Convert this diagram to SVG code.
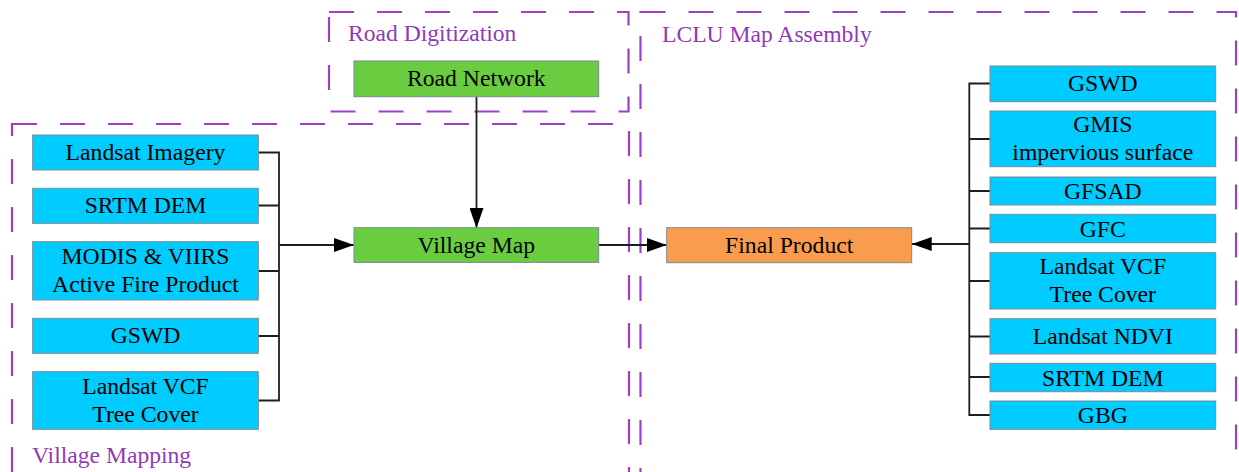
<svg xmlns="http://www.w3.org/2000/svg" width="1239" height="472" viewBox="0 0 1239 472">
<style>
.grp{fill:none;stroke:#9b3fc6;stroke-width:2.2;stroke-dasharray:25 23}
.gl{font-family:'Liberation Serif','Times New Roman','DejaVu Serif',serif;font-size:23.6px;fill:#8e3ab8}
.n{stroke:#7a8a92;stroke-width:1}
.b{fill:#00ccff}
.g{fill:#6acd3f}
.o{fill:#fa9c4e}
.t{font-family:'Liberation Serif','Times New Roman','DejaVu Serif',serif;font-size:23.7px;fill:#000;text-anchor:middle}
.c{fill:none;stroke:#1e1e1e;stroke-width:1.8}
</style>
<defs>
<marker id="ah" markerUnits="userSpaceOnUse" markerWidth="20" markerHeight="14" refX="20" refY="7" orient="auto">
<path d="M0,0 L20,7 L0,14 z" fill="#000"/>
</marker>
</defs>
<g id="group-road-digitization">
<rect class="grp" x="329" y="12" width="299.5" height="99.5"/>
<text class="gl" x="348" y="41">Road Digitization</text>
</g>
<g id="group-village-mapping">
<rect class="grp" x="12" y="124" width="617" height="349"/>
<text class="gl" x="32" y="463">Village Mapping</text>
</g>
<g id="group-lclu">
<rect class="grp" x="640.5" y="12" width="595.5" height="461"/>
<text class="gl" x="662" y="41.5">LCLU Map Assembly</text>
</g>
<g id="connectors">
<path class="c" d="M258.3,152.5 H279 V400.5 H258.3 M258.3,205.5 H279 M258.3,271 H279 M258.3,336 H279"/>
<path class="c" d="M279,245 H354" marker-end="url(#ah)"/>
<path class="c" d="M476.5,96.7 V228" marker-end="url(#ah)"/>
<path class="c" d="M598.7,245 H666.7" marker-end="url(#ah)"/>
<path class="c" d="M990,83.5 H969.3 V415 H990 M990,139 H969.3 M990,191 H969.3 M990,228.5 H969.3 M990,281 H969.3 M990,336.5 H969.3 M990,377 H969.3"/>
<path class="c" d="M969.3,244 H911.7" marker-end="url(#ah)"/>
</g>
<g id="road-network"><rect class="n g" x="354" y="61" width="244.7" height="35.7"/><text class="t" x="476.3" y="86">Road Network</text></g>
<g id="village-map"><rect class="n g" x="354" y="227.7" width="244.7" height="34.7"/><text class="t" x="476.3" y="252.5">Village Map</text></g>
<g id="final-product"><rect class="n o" x="666.7" y="227.7" width="245" height="35"/><text class="t" x="789.2" y="252.5">Final Product</text></g>
<g id="vm-landsat-imagery"><rect class="n b" x="32.7" y="135" width="225.6" height="35"/><text class="t" x="145.5" y="160">Landsat Imagery</text></g>
<g id="vm-srtm-dem"><rect class="n b" x="32.7" y="188.3" width="225.6" height="35"/><text class="t" x="145.5" y="213.3">SRTM DEM</text></g>
<g id="vm-modis-viirs"><rect class="n b" x="32.7" y="241.7" width="225.6" height="58.3"/><text class="t" x="145.5" y="264"><tspan x="145.5">MODIS &amp; VIIRS</tspan><tspan x="145.5" y="292">Active Fire Product</tspan></text></g>
<g id="vm-gswd"><rect class="n b" x="32.7" y="318.3" width="225.6" height="35"/><text class="t" x="145.5" y="343.3">GSWD</text></g>
<g id="vm-landsat-vcf"><rect class="n b" x="32.7" y="371.7" width="225.6" height="57.6"/><text class="t" x="145.5" y="393.5"><tspan x="145.5">Landsat VCF</tspan><tspan x="145.5" y="421.8">Tree Cover</tspan></text></g>
<g id="lc-gswd"><rect class="n b" x="990" y="66" width="225.7" height="35.7"/><text class="t" x="1102.8" y="91.3">GSWD</text></g>
<g id="lc-gmis"><rect class="n b" x="990" y="111" width="225.7" height="55.7"/><text class="t" x="1102.8" y="131.7"><tspan x="1102.8">GMIS</tspan><tspan x="1102.8" y="160">impervious surface</tspan></text></g>
<g id="lc-gfsad"><rect class="n b" x="990" y="177" width="225.7" height="28"/><text class="t" x="1102.8" y="199">GFSAD</text></g>
<g id="lc-gfc"><rect class="n b" x="990" y="214.3" width="225.7" height="28.4"/><text class="t" x="1102.8" y="236.5">GFC</text></g>
<g id="lc-landsat-vcf"><rect class="n b" x="990" y="252.7" width="225.7" height="56.3"/><text class="t" x="1102.8" y="274"><tspan x="1102.8">Landsat VCF</tspan><tspan x="1102.8" y="302.3">Tree Cover</tspan></text></g>
<g id="lc-landsat-ndvi"><rect class="n b" x="990" y="318.7" width="225.7" height="35.3"/><text class="t" x="1102.8" y="343.8">Landsat NDVI</text></g>
<g id="lc-srtm-dem"><rect class="n b" x="990" y="363.3" width="225.7" height="28.4"/><text class="t" x="1102.8" y="385.5">SRTM DEM</text></g>
<g id="lc-gbg"><rect class="n b" x="990" y="401" width="225.7" height="28.3"/><text class="t" x="1102.8" y="423">GBG</text></g>
</svg>
